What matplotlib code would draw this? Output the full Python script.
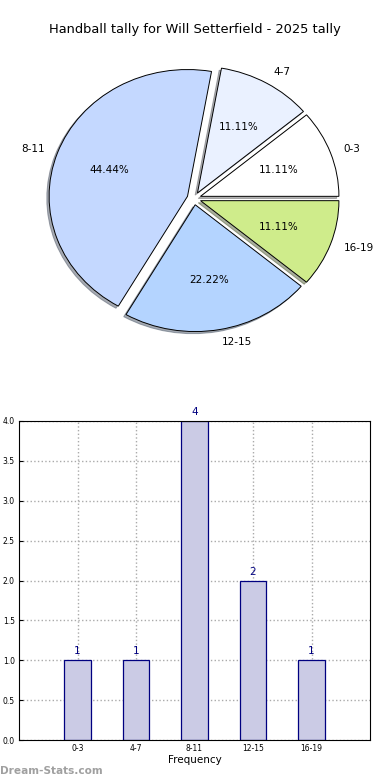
import matplotlib
matplotlib.use('Agg')
import matplotlib.pyplot as plt

# data
labels = ['0-3', '4-7', '8-11', '12-15', '16-19']
counts = [1, 1, 4, 2, 1]
pie_colors = ['#ffffff', '#eaf1ff', '#c4d8ff', '#b4d4ff', '#cfec8b']
title = 'Handball tally for Will Setterfield - 2025 tally'

fig = plt.figure(figsize=(3.9, 7.8), dpi=100)

# pie on top
pie_ax = fig.add_axes([21/390, 1 - 357/780, 346/390, 317/780])
wedges, texts, autotexts = pie_ax.pie(
    counts, labels=labels, colors=pie_colors, explode=[0.05]*5,
    autopct='%1.2f%%', shadow={'ox': -0.012, 'oy': -0.012, 'shade': 0.6},
    startangle=0,
    wedgeprops={'edgecolor': 'black', 'linewidth': 0.7},
    textprops={'fontsize': 7.5})
pie_ax.set_aspect('auto')
pie_ax.set_xlim(-1.25, 1.25)
pie_ax.set_ylim(-1.25, 1.25)
pie_ax.axis('off')
fig.text(0.5, 1 - 30/780, title, ha='center', va='center', fontsize=9.4)

# bar chart below
bar_ax = fig.add_axes([19/390, 1 - 740/780, 351/390, 319/780])
xs = list(range(len(labels)))
bar_ax.bar(xs, counts, width=0.45, color='#cbcbe5', edgecolor='#000080',
           linewidth=0.9, zorder=2)
for x, c in zip(xs, counts):
    bar_ax.text(x, c + 0.05, str(c), ha='center', va='bottom',
                color='#000080', fontsize=7.5)
bar_ax.set_xlim(-1, 5)
bar_ax.set_ylim(0, 4)
bar_ax.set_xticks(xs)
bar_ax.set_xticklabels(labels)
bar_ax.set_yticks([0, 0.5, 1, 1.5, 2, 2.5, 3, 3.5, 4])
bar_ax.set_yticklabels(['0.0', '0.5', '1.0', '1.5', '2.0', '2.5', '3.0', '3.5', '4.0'])
bar_ax.tick_params(labelsize=5.5, direction='in', length=3, pad=3)
bar_ax.grid(True, linestyle=':', color='#aaaaaa', linewidth=1, zorder=0)
bar_ax.set_axisbelow(True)
bar_ax.set_xlabel('Frequency', fontsize=7.5, labelpad=1)

fig.text(0, 1 - 771/780, 'Dream-Stats.com', ha='left', va='center',
         fontsize=7.6, color='#a0a0a0', fontweight='bold')

fig.savefig('out.png', dpi=100)
